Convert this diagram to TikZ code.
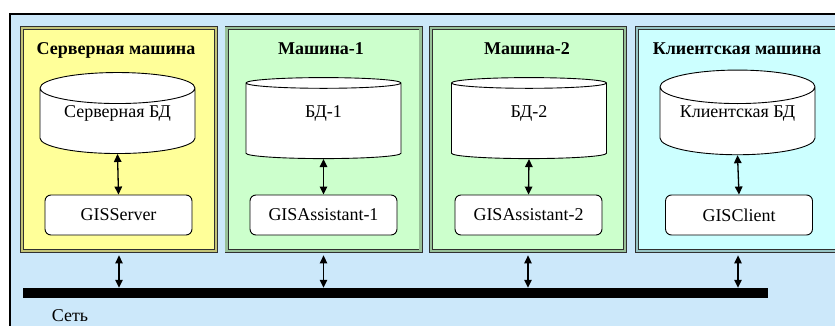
\documentclass[tikz,border=0pt]{standalone}
\usepackage{fontspec}
\setmainfont{Liberation Serif}
\usetikzlibrary{arrows.meta,positioning,shapes.geometric}
\definecolor{netblue}{HTML}{CCE8FA}
\definecolor{srvfill}{HTML}{FFFF99}
\definecolor{srvedge}{HTML}{C4C478}
\definecolor{nodefill}{HTML}{CCFFCC}
\definecolor{nodeedge}{HTML}{98C098}
\definecolor{cltfill}{HTML}{CCFFFF}
\definecolor{cltedge}{HTML}{98C4C4}
\definecolor{frameink}{HTML}{303030}

\begin{document}
\begin{tikzpicture}[x=1pt,y=1pt,>={Triangle[length=8pt,width=7.5pt]},
  font=\fontsize{18}{21}\selectfont,
  machine/.style={rectangle,draw=frameink,line width=.8pt,double distance=2.4pt,
    minimum width=194pt,minimum height=223pt,inner sep=0pt},
  title/.style={font=\fontsize{18}{21}\selectfont\bfseries,anchor=base},
  dbase/.style={cylinder,shape border rotate=90,shape aspect=.29,draw,fill=white,
    line width=.9pt,minimum width=155pt,minimum height=81pt,inner sep=0pt,
    text height=13pt,text depth=21pt},
  app/.style={rectangle,rounded corners=6pt,draw,fill=white,line width=.9pt,
    minimum width=147pt,minimum height=40pt,inner sep=0pt},
  link/.style={<->,line width=1.3pt}]
\path[use as bounding box] (0,0) rectangle (835,325);
\fill[white] (0,0) rectangle (835,325);
\clip (0,0) rectangle (835,325);
% общая рамка
\draw[fill=netblue,line width=2pt] (10,311) rectangle (860,-20);
% машины
\node[machine,fill=srvfill,double=srvedge] (srvm) at (119,185.5) {};
\node[machine,fill=nodefill,double=nodeedge] (m1) at (323.5,185.5) {};
\node[machine,fill=nodefill,double=nodeedge] (m2) at (528,185.5) {};
\node[machine,fill=cltfill,double=cltedge,minimum width=202pt] (cltm) at (738,185.5) {};
\node[title] (srvt) at (116,271) {Серверная машина};
\node[title] (m1t) at (321,271) {Машина-1};
\node[title] (m2t) at (527,271) {Машина-2};
\node[title] (cltt) at (737,271) {Клиентская машина};
% базы данных и программы
\node[dbase] (srvdb) at (117.5,204) {Серверная БД};
\node[dbase] (db1) at (323.5,204) {БД-1};
\node[dbase] (db2) at (529,204) {БД-2};
\node[dbase] (cltdb) at (737.5,204) {Клиентская БД};
\node[app] (srv) at (118.5,110) {GISServer};
\node[app] (as1) at (323.5,110) {GISAssistant-1};
\node[app] (as2) at (528.5,110) {GISAssistant-2};
\node[app] (clt) at (739,110) {GISClient};
\draw[link] (srvdb.south) -- (srv.north);
\draw[link] (db1.south) -- (as1.north);
\draw[link] (db2.south) -- (as2.north);
\draw[link] (cltdb.south) -- (clt.north);
% сеть
\node[fill=black,minimum width=745pt,minimum height=10pt,inner sep=0pt] (net) at (395.5,32) {};
\node[anchor=base] (netlbl) at (70,4) {Сеть};
\draw[link] ([yshift=-4pt]srvm.south) -- (srvm.south |- net.north);
\draw[link] ([yshift=-4pt]m1.south) -- (m1.south |- net.north);
\draw[link] ([yshift=-4pt]m2.south) -- (m2.south |- net.north);
\draw[link] ([yshift=-4pt]cltm.south) -- (cltm.south |- net.north);
\end{tikzpicture}
\end{document}
